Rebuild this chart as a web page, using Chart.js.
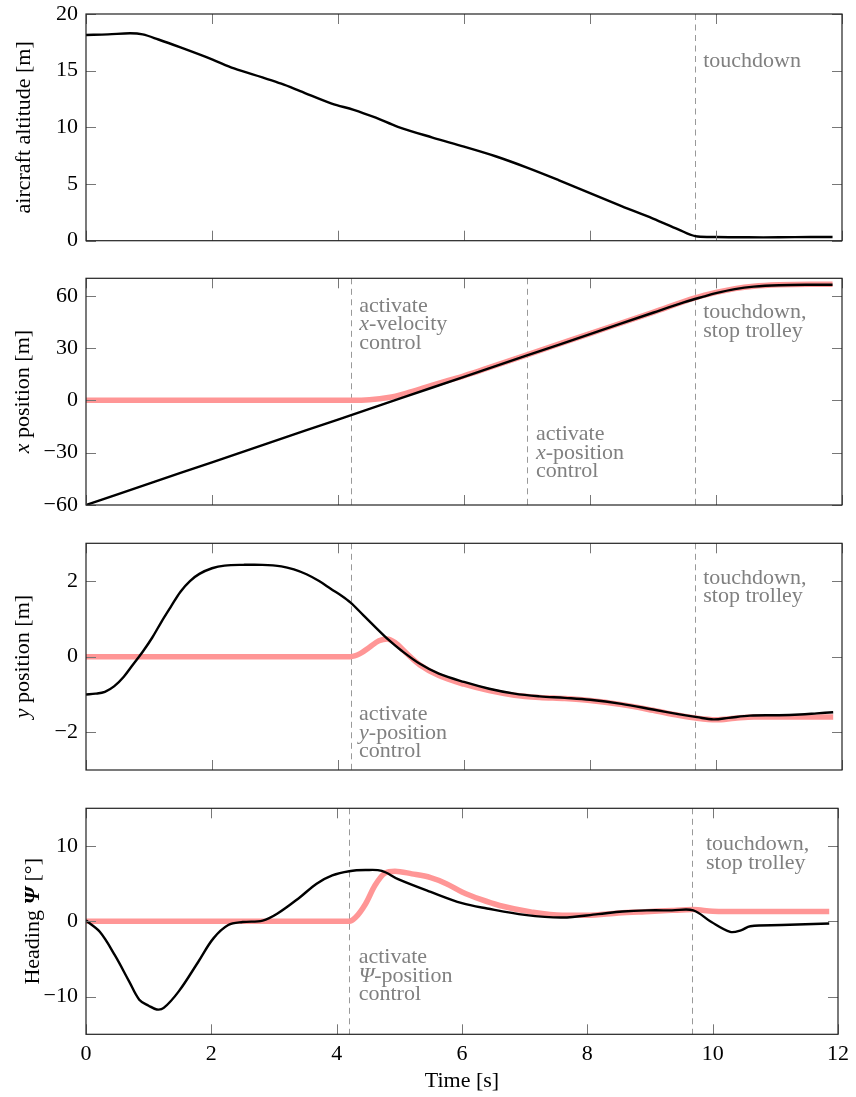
<!DOCTYPE html>
<html><head><meta charset="utf-8">
<script src="https://cdn.jsdelivr.net/npm/chart.js@4.4.1/dist/chart.umd.min.js"></script>
<style>
html,body{margin:0;padding:0;background:#fff;}
#wrap{position:relative;width:856px;height:1097px;overflow:hidden;}
canvas{position:absolute;left:0;}
</style></head><body>
<div id="wrap">
<canvas id="c1" width="856" height="275" style="top:-10px"></canvas>
<canvas id="c2" width="856" height="275" style="top:254px"></canvas>
<canvas id="c3" width="856" height="275" style="top:519px"></canvas>
<canvas id="c4" width="856" height="313" style="top:784px"></canvas>
</div>
<script>
// ---------- data ----------
const timeTicks = [0, 2, 4, 6, 8, 10, 12];
const altTicks = [0, 5, 10, 15, 20];
const xPosTicks = [-60, -30, 0, 30, 60];
const yPosTicks = [-2, 0, 2];
const headTicks = [-10, 0, 10];

const tActivateVel = 4.2;
const tActivatePos = 7.0;
const tTouchdown = 9.67;

const altT = [0,0.35,0.7,0.9,1.15,1.5,2.0,2.35,2.8,3.1,3.4,3.9,4.25,4.6,4.95,5.5,6.0,6.5,7.0,7.5,8.0,8.5,9.0,9.4,9.67,10.0,10.5,11.0,11.5,11.85];
const altV = [18.15,18.2,18.3,18.2,17.75,17.05,16.0,15.2,14.4,13.85,13.2,12.1,11.55,10.85,10.05,9.1,8.3,7.45,6.45,5.35,4.2,3.05,1.95,1.0,0.4,0.33,0.3,0.3,0.33,0.33];

const xPosT = [0,1,2,3,4,5,6,7,8,9,9.5,9.8,10.0,10.3,10.6,11.0,11.5,11.85];
const xPosV = [-60,-47.75,-35.5,-23.25,-11,1.25,13.5,25.75,38,50.25,56.3,59.5,61.5,63.8,65.2,66.0,66.3,66.3];
const xRefT = [0,4.2,4.5,4.8,5.1,5.4,5.7,6.0,6.3,7,8,9,9.67,10,10.3,10.6,11,11.5,11.85];
const xRefV = [0,0,0.3,1.6,4.3,7.6,10.9,14.1,17.6,26.1,38.3,50.5,58.8,61.9,64.1,65.5,66.3,66.6,66.6];

const yPosT = [0,0.15,0.3,0.45,0.6,0.75,0.9,1.05,1.2,1.35,1.5,1.65,1.8,2.0,2.2,2.5,2.8,3.1,3.3,3.5,3.7,3.9,4.05,4.2,4.4,4.6,4.8,5.0,5.3,5.6,6.0,6.4,6.8,7.2,7.6,8.0,8.5,9.0,9.4,9.7,9.96,10.2,10.54,11.0,11.33,11.6,11.86];
const yPosV = [-1.0,-0.98,-0.93,-0.78,-0.53,-0.2,0.13,0.5,0.93,1.33,1.72,2.0,2.19,2.34,2.41,2.43,2.43,2.39,2.31,2.18,2.0,1.78,1.62,1.43,1.1,0.77,0.45,0.17,-0.19,-0.45,-0.67,-0.85,-0.98,-1.05,-1.09,-1.14,-1.25,-1.4,-1.52,-1.6,-1.66,-1.62,-1.56,-1.55,-1.53,-1.5,-1.47];
const yRefT = [0,4.2,4.35,4.5,4.65,4.78,4.9,5.1,5.3,5.6,6.0,6.4,6.8,7.2,7.6,8.0,8.5,9.0,9.4,9.7,10.0,10.3,10.6,11,11.5,11.86];
const yRefV = [0,0,0.08,0.25,0.42,0.47,0.38,0.07,-0.22,-0.5,-0.73,-0.9,-1.02,-1.08,-1.11,-1.16,-1.27,-1.42,-1.55,-1.63,-1.67,-1.63,-1.6,-1.6,-1.6,-1.6];

const headT = [0,0.22,0.46,0.69,0.85,1.0,1.13,1.24,1.48,1.79,2.03,2.27,2.5,2.82,3.05,3.4,3.68,3.93,4.2,4.46,4.72,4.98,5.5,6.0,6.4,7.0,7.6,8.17,8.56,8.95,9.35,9.69,9.98,10.28,10.45,10.6,11.1,11.86];
const headV = [0.1,-1.4,-4.5,-8.0,-10.4,-11.2,-11.7,-11.5,-9.3,-5.4,-2.3,-0.5,-0.1,0.1,1.0,3.1,5.0,6.1,6.65,6.8,6.7,5.6,3.9,2.4,1.7,0.85,0.5,0.95,1.3,1.45,1.45,1.45,-0.1,-1.4,-1.2,-0.65,-0.5,-0.3];
const headRefT = [0,4.2,4.3,4.46,4.61,4.77,4.93,5.2,5.5,5.75,6.0,6.3,6.6,7.1,7.6,8.0,8.5,9.0,9.35,9.69,10.0,10.5,11.0,11.86];
const headRefV = [0,0,0.5,2.3,4.75,6.4,6.65,6.3,5.8,5.0,3.9,2.9,2.1,1.25,0.8,0.8,1.1,1.3,1.45,1.55,1.35,1.3,1.3,1.3];

// ---------- styling ----------
const FAMILY = "'Liberation Serif','Times New Roman',Times,serif";
const FS = 22;
const PINK = 'rgb(255,150,150)';
const NOTE_GRAY = '#808080';
const LINE_GAP = 18.5;

function pts(T, V) { return T.map((t, i) => ({x: t, y: V[i]})); }
function fontStr(st) {
  const s = st === 'i' ? 'italic ' : st === 'bi' ? 'italic bold ' : '';
  return s + FS + 'px ' + FAMILY;
}
function drawSegs(ctx, segs, x, y) {
  segs.forEach(([t, st]) => { ctx.font = fontStr(st); ctx.fillText(t, x, y); x += ctx.measureText(t).width; });
}
function segsWidth(ctx, segs) {
  let w = 0; segs.forEach(([t, st]) => { ctx.font = fontStr(st); w += ctx.measureText(t).width; }); return w;
}

const guides = {
  id: 'guides',
  beforeDatasetsDraw(chart, args, o) {
    const {ctx, chartArea: a, scales: {x}} = chart;
    ctx.save();
    ctx.strokeStyle = '#999'; ctx.lineWidth = 1; ctx.setLineDash([6, 4.5]);
    (o.events || []).forEach(t => {
      const px = Math.round(x.getPixelForValue(t)) + 0.5;
      ctx.beginPath(); ctx.moveTo(px, a.top); ctx.lineTo(px, a.bottom); ctx.stroke();
    });
    ctx.restore();
  },
  afterDatasetsDraw(chart, args, o) {
    const {ctx, chartArea: a, scales: {x, y}} = chart;
    ctx.save();
    const L = 10;
    ctx.strokeStyle = '#777'; ctx.lineWidth = 1;
    const seg = (x1, y1, x2, y2) => { ctx.beginPath(); ctx.moveTo(x1, y1); ctx.lineTo(x2, y2); ctx.stroke(); };
    o.xTicks.forEach(v => {
      const px = Math.round(x.getPixelForValue(v)) + 0.5;
      seg(px, a.top, px, a.top + L); seg(px, a.bottom, px, a.bottom - L);
    });
    o.yTicks.forEach(v => {
      const py = Math.round(y.getPixelForValue(v)) + 0.5;
      seg(a.left, py, a.left + L, py); seg(a.right, py, a.right - L, py);
    });
    ctx.strokeStyle = '#222'; ctx.lineWidth = 1.2;
    ctx.strokeRect(a.left, a.top, a.right - a.left, a.bottom - a.top);
    ctx.fillStyle = NOTE_GRAY; ctx.textAlign = 'left'; ctx.textBaseline = 'alphabetic';
    (o.notes || []).forEach(n => {
      const x0 = x.getPixelForValue(n.t) + n.dx;
      n.lines.forEach((segs, i) => drawSegs(ctx, segs, x0, a.top + n.dy + i * LINE_GAP));
    });
    ctx.restore();
  },
  afterDraw(chart, args, o) {
    const {ctx, chartArea: a} = chart;
    ctx.save();
    ctx.fillStyle = '#000'; ctx.textAlign = 'left'; ctx.textBaseline = 'alphabetic';
    const cy = (a.top + a.bottom) / 2;
    ctx.translate(o.titleX, cy); ctx.rotate(-Math.PI / 2);
    const w = segsWidth(ctx, o.title);
    drawSegs(ctx, o.title, -w / 2, 0);
    ctx.restore();
  }
};

const tickFont = {family: FAMILY, size: FS};
const fmt = v => String(v).replace('-', '\u2212');

function makeChart(id, cfg) {
  return new Chart(document.getElementById(id), {
    type: 'line',
    data: {datasets: [
      {data: cfg.black, borderColor: '#000', borderWidth: 2.4, cubicInterpolationMode: 'default', tension: 0.35},
      {data: cfg.pink || [], borderColor: PINK, borderWidth: 5.5, cubicInterpolationMode: 'monotone'}
    ]},
    options: {
      responsive: false, animation: false, devicePixelRatio: 1,
      layout: {padding: {left: 0, right: 14, top: cfg.padTop, bottom: cfg.padBottom}},
      elements: {point: {radius: 0}, line: {fill: false}},
      plugins: {legend: {display: false}, tooltip: {enabled: false},
        guides: {events: cfg.events, notes: cfg.notes, xTicks: timeTicks, yTicks: cfg.yTicks, title: cfg.title, titleX: cfg.titleX}},
      scales: {
        x: {type: 'linear', min: 0, max: 12, display: !!cfg.showX,
          afterBuildTicks: s => { s.ticks = timeTicks.map(v => ({value: v})); },
          afterFit: s => { if (cfg.showX) s.height = cfg.xHeight; },
          grid: {display: false, drawTicks: false}, border: {display: false},
          ticks: {font: tickFont, color: '#000', padding: 7, maxRotation: 0, autoSkip: false},
          title: {display: !!cfg.showX, text: 'Time [s]', font: tickFont, color: '#000', padding: {top: 0, bottom: 3}}},
        y: {type: 'linear', min: cfg.yMin, max: cfg.yMax,
          afterBuildTicks: s => { s.ticks = cfg.yTicks.map(v => ({value: v})); },
          afterFit: s => { s.width = 86; },
          grid: {display: false, drawTicks: false}, border: {display: false},
          ticks: {font: tickFont, color: '#000', padding: 8, callback: v => fmt(v)}}
      }
    },
    plugins: [guides]
  });
}

const touchNote = (dx, dy) => ({t: tTouchdown, dx, dy, lines: [[['touchdown,', '']], [['stop trolley', '']]]});

makeChart('c1', {
  black: pts(altT, altV), yMin: 0, yMax: 20, yTicks: altTicks, padTop: 24, padBottom: 24.3,
  events: [tTouchdown],
  notes: [{t: tTouchdown, dx: 8, dy: 52.7, lines: [[['touchdown', '']]]}],
  title: [['aircraft altitude [m]', '']], titleX: 30
});
makeChart('c2', {
  black: pts(xPosT, xPosV), pink: pts(xRefT, xRefV), yMin: -60, yMax: 70, yTicks: xPosTicks, padTop: 24.3, padBottom: 24,
  events: [tActivateVel, tActivatePos, tTouchdown],
  notes: [
    {t: tActivateVel, dx: 8.7, dy: 33.4, lines: [[['activate', '']], [['x', 'i'], ['-velocity', '']], [['control', '']]]},
    {t: tActivatePos, dx: 9, dy: 161.7, lines: [[['activate', '']], [['x', 'i'], ['-position', '']], [['control', '']]]},
    touchNote(8, 40)
  ],
  title: [['x', 'i'], [' position [m]', '']], titleX: 29
});
makeChart('c3', {
  black: pts(yPosT, yPosV), pink: pts(yRefT, yRefV), yMin: -3, yMax: 3, yTicks: yPosTicks, padTop: 24.3, padBottom: 24,
  events: [tActivateVel, tTouchdown],
  notes: [
    {t: tActivateVel, dx: 8.5, dy: 176.7, lines: [[['activate', '']], [['y', 'i'], ['-position', '']], [['control', '']]]},
    touchNote(8, 40.5)
  ],
  title: [['y', 'i'], [' position [m]', '']], titleX: 29
});
makeChart('c4', {
  black: pts(headT, headV), pink: pts(headRefT, headRefV), yMin: -15, yMax: 15, yTicks: headTicks, padTop: 24.3, padBottom: 0,
  showX: true, xHeight: 62.7,
  events: [tActivateVel, tTouchdown],
  notes: [
    {t: tActivateVel, dx: 9.5, dy: 155, lines: [[['activate', '']], [['\u03A8', 'i'], ['-position', '']], [['control', '']]]},
    touchNote(14, 41.7)
  ],
  title: [['Heading ', ''], ['\u03A8', 'bi'], [' [\u00B0]', '']], titleX: 39
});
</script>
</body></html>
